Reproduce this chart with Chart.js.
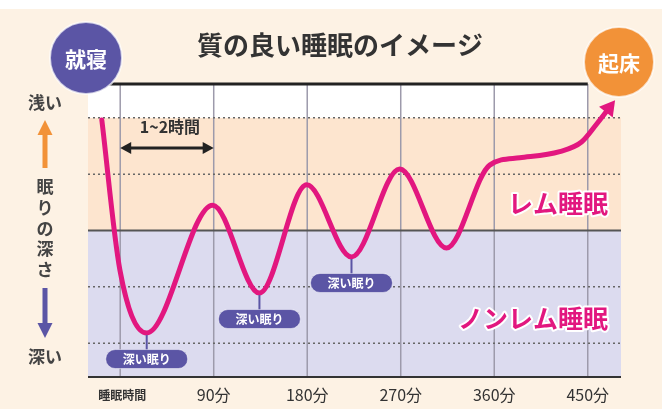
<!DOCTYPE html>
<html><head><meta charset="utf-8">
<script src="https://cdn.jsdelivr.net/npm/chart.js@4"></script>
<style>html,body{margin:0;padding:0;background:#fdf2e4}canvas{display:block}</style>
</head><body>
<canvas id="c" width="662" height="409"></canvas>
<script>
// ---- data ----
const minutes = [-17.7, -0.3, 25.5, 89, 134, 179.5, 222.6, 269, 314, 355.6, 384.5, 423, 444, 458.6, 470.4];
const depth   = [3.96, 1.30, 0.18, 2.45, 0.89, 2.81, 1.53, 3.09, 1.69, 3.16, 3.29, 3.40, 3.57, 3.89, 4.17];
const xTickValues = [0, 90, 180, 270, 360, 450];
const xTickLabels = ['睡眠時間', '90分', '180分', '270分', '360分', '450分'];
const depthLevels = [0, 1, 2, 3, 4];
const remBoundary = 2;
const deepSleepIdx = [2, 4, 6];
const deepSleepLabel = '深い眠り';
const cycleSpan = [0, 90];
const cycleLabel = '1~2時間';
const titleText = '質の良い睡眠のイメージ';
const remLabel = 'レム睡眠';
const nremLabel = 'ノンレム睡眠';
const bedLabel = '就寝';
const wakeLabel = '起床';
const shallowLabel = '浅い';
const deepLabel = '深い';
const axisTitle = '眠りの深さ';

const FONT = '"Noto Sans CJK JP","Noto Sans",sans-serif';
const MAGENTA = '#e2177f';
const PURPLE = '#5b55a5';
const ORANGE = '#f29238';

function seg(c, x1, y1, x2, y2) { c.beginPath(); c.moveTo(x1, y1); c.lineTo(x2, y2); c.stroke(); }
function tri(c, p) { c.beginPath(); c.moveTo(p[0], p[1]); c.lineTo(p[2], p[3]); c.lineTo(p[4], p[5]); c.closePath(); c.fill(); }
function pill(c, cx, cy, w, h) {
  const r = h / 2, l = cx - w / 2, rr = cx + w / 2;
  c.beginPath();
  c.moveTo(l + r, cy - r); c.lineTo(rr - r, cy - r);
  c.arc(rr - r, cy, r, -Math.PI / 2, Math.PI / 2);
  c.lineTo(l + r, cy + r);
  c.arc(l + r, cy, r, Math.PI / 2, Math.PI * 1.5);
  c.closePath();
}

const deco = {
  id: 'deco',
  beforeDraw(chart) {
    const c = chart.ctx;
    c.save();
    c.fillStyle = '#fdf2e4'; c.fillRect(0, 0, chart.width, chart.height);
    c.fillStyle = '#ffffff'; c.fillRect(0, 0, chart.width, 9);
    c.restore();
  },
  beforeDatasetsDraw(chart) {
    const c = chart.ctx, a = chart.chartArea, x = chart.scales.x, y = chart.scales.y;
    const yTop = y.getPixelForValue(depthLevels[depthLevels.length - 1]);
    const yB = y.getPixelForValue(remBoundary);
    const xEnd = x.getPixelForValue(xTickValues[xTickValues.length - 1]);
    c.save();
    c.fillStyle = '#dcdbef'; c.fillRect(a.left, yB, a.right - a.left, a.bottom - yB);
    c.fillStyle = '#fde5cf'; c.fillRect(a.left, yTop, a.right - a.left, yB - yTop);
    c.fillStyle = '#ffffff'; c.fillRect(a.left, a.top, xEnd - a.left, yTop - a.top);
    // vertical grid
    c.strokeStyle = '#9d9aab'; c.lineWidth = 1.5;
    xTickValues.forEach(v => { const px = x.getPixelForValue(v); seg(c, px, a.top, px, a.bottom); });
    // dotted levels
    c.strokeStyle = '#666'; c.lineWidth = 1.5; c.setLineDash([2, 3]);
    depthLevels.filter(l => l !== remBoundary).forEach(l => { const py = y.getPixelForValue(l); seg(c, a.left, py, a.right, py); });
    c.setLineDash([]);
    c.strokeStyle = '#555'; c.lineWidth = 2; seg(c, a.left, yB, a.right, yB);
    c.strokeStyle = '#333'; c.lineWidth = 2; seg(c, a.left, a.bottom, a.right, a.bottom);
    c.strokeStyle = '#222'; c.lineWidth = 3; seg(c, a.left, a.top, xEnd, a.top);
    // 1~2時間 arrow
    const x0 = x.getPixelForValue(cycleSpan[0]), x1 = x.getPixelForValue(cycleSpan[1]);
    const ay = a.top + 64;
    c.strokeStyle = '#222'; c.fillStyle = '#222'; c.lineWidth = 3;
    seg(c, x0 + 6, ay, x1 - 6, ay);
    tri(c, [x0, ay, x0 + 11, ay - 6, x0 + 11, ay + 6]);
    tri(c, [x1, ay, x1 - 11, ay - 6, x1 - 11, ay + 6]);
    c.font = 'bold 16px ' + FONT; c.textAlign = 'center'; c.textBaseline = 'middle';
    c.fillStyle = '#333';
    c.fillText(cycleLabel, (x0 + x1) / 2 + 3, a.top + 43);
    // region labels
    c.font = 'bold 25px ' + FONT; c.textAlign = 'right';
    c.lineJoin = 'round'; c.strokeStyle = '#ffffff'; c.lineWidth = 4;
    c.strokeText(remLabel, a.right - 13, 203);
    c.fillStyle = MAGENTA; c.fillText(remLabel, a.right - 13, 203);
    c.strokeText(nremLabel, a.right - 13, 318);
    c.fillText(nremLabel, a.right - 13, 318);
    c.restore();
  },
  afterDatasetsDraw(chart) {
    const c = chart.ctx, a = chart.chartArea, x = chart.scales.x, y = chart.scales.y;
    c.save();
    c.textAlign = 'center'; c.textBaseline = 'middle';
    // deep sleep pills
    deepSleepIdx.forEach(i => {
      const px = x.getPixelForValue(minutes[i]), py = y.getPixelForValue(depth[i]);
      c.strokeStyle = PURPLE; c.lineWidth = 2;
      seg(c, px, py + 2, px, py + 17);
      pill(c, px, py + 26, 82, 19);
      c.fillStyle = PURPLE; c.fill();
      c.strokeStyle = 'rgba(255,255,255,0.5)'; c.lineWidth = 1; c.stroke();
      c.fillStyle = '#ffffff'; c.font = 'bold 12px ' + FONT;
      c.fillText(deepSleepLabel, px, py + 26);
    });
    // circles
    [[86, 58, 36, PURPLE, bedLabel], [619, 62, 35, ORANGE, wakeLabel]].forEach(([cx, cy, r, col, t]) => {
      c.beginPath(); c.arc(cx, cy, r, 0, Math.PI * 2);
      c.fillStyle = col; c.fill();
      c.strokeStyle = 'rgba(255,255,255,0.7)'; c.lineWidth = 2; c.stroke();
      c.fillStyle = '#ffffff'; c.font = 'bold 21px ' + FONT;
      c.fillText(t, cx, cy + 1);
    });
    // title
    c.fillStyle = '#333'; c.font = 'bold 26px ' + FONT;
    c.fillText(titleText, 340, 45);
    // side labels
    c.font = 'bold 17px ' + FONT; c.fillStyle = '#444';
    c.fillText(shallowLabel, 45, 103);
    c.fillText(deepLabel, 45, 357);
    [...axisTitle].forEach((ch, k) => c.fillText(ch, 45, 187 + k * 20.6));
    c.fillStyle = ORANGE;
    c.fillRect(42.5, 132, 5, 36);
    tri(c, [45, 120, 37.5, 135, 52.5, 135]);
    c.fillStyle = PURPLE;
    c.fillRect(42.5, 288, 5, 37);
    tri(c, [45, 338, 37.5, 323, 52.5, 323]);
    // x labels
    xTickValues.forEach((v, k) => {
      const px = x.getPixelForValue(v);
      c.fillStyle = '#333';
      c.font = (k === 0 ? 'bold 12px ' : '16px ') + FONT;
      c.fillText(xTickLabels[k], px + (k === 0 ? 2 : 0), 395);
    });
    c.restore();
  }
};

const last = minutes.length - 1;
new Chart(document.getElementById('c'), {
  type: 'line',
  data: {
    datasets: [{
      data: minutes.map((m, i) => ({ x: m, y: depth[i] })),
      borderColor: MAGENTA,
      backgroundColor: MAGENTA,
      borderWidth: 5,
      cubicInterpolationMode: 'monotone',
      borderCapStyle: 'round',
      pointStyle: 'triangle',
      pointRadius: ctx => ctx.dataIndex === last ? 10 : 0,
      pointBorderWidth: 0,
      pointBackgroundColor: MAGENTA,
      pointRotation: ctx => {
        const ch = ctx.chart, sx = ch.scales.x, sy = ch.scales.y;
        if (!sx || !sy) return 35;
        const dx = sx.getPixelForValue(minutes[last]) - sx.getPixelForValue(minutes[last - 1]);
        const dy = sy.getPixelForValue(depth[last]) - sy.getPixelForValue(depth[last - 1]);
        return Math.atan2(dx, -dy) * 180 / Math.PI;
      }
    }]
  },
  options: {
    responsive: false,
    animation: false,
    layout: { padding: { left: 88, right: 41, top: 84, bottom: 32 } },
    plugins: { legend: { display: false }, tooltip: { enabled: false } },
    scales: {
      x: { type: 'linear', min: -31, max: 482, display: false },
      y: { type: 'linear', min: -0.6, max: 4.6, display: false }
    }
  },
  plugins: [deco]
});
</script>
</body></html>
